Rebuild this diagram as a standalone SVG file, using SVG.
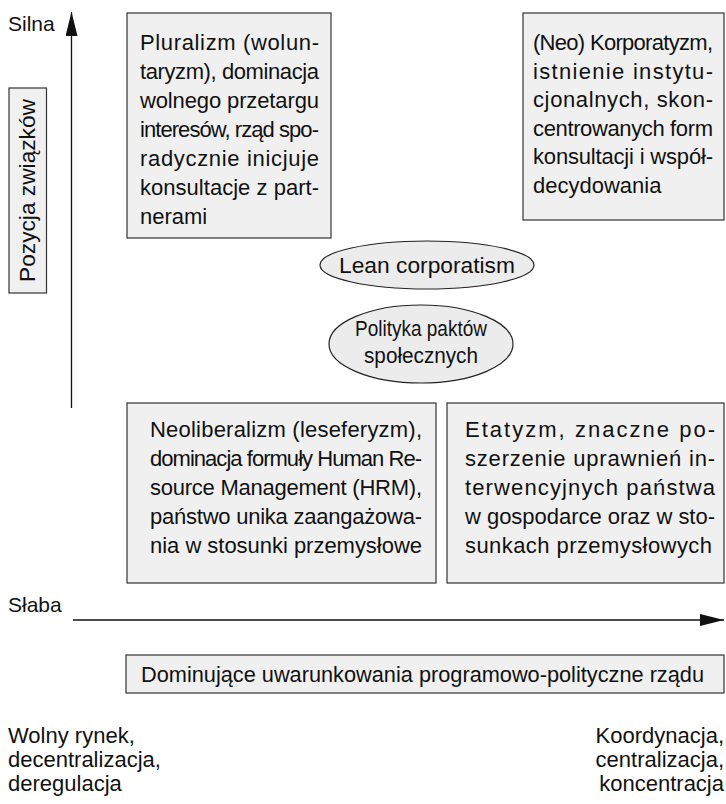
<svg xmlns="http://www.w3.org/2000/svg" width="726" height="804" viewBox="0 0 726 804">
<style>
text{font-family:"Liberation Sans",Arial,sans-serif;fill:#111;font-size:22px}
.box{fill:#f0f0f0;stroke:#333;stroke-width:1.2}
.ell{fill:#ececec;stroke:#222;stroke-width:1.2}
.axis{stroke:#111;stroke-width:1.3;fill:none}
.lbl{font-size:21px}
.cond{font-size:22px}
</style>
<defs>
<marker id="ah" viewBox="0 0 24 12" refX="24" refY="6" markerWidth="24" markerHeight="12" markerUnits="userSpaceOnUse" orient="auto">
<path d="M0,0 L24,6 L0,12 Z" fill="#111"/>
</marker>
</defs>
<rect width="726" height="804" fill="#fff"/>

<g id="connectors">
<line class="axis" x1="71.5" y1="408" x2="71.5" y2="12" marker-end="url(#ah)"/>
<line class="axis" x1="73" y1="620" x2="724" y2="620" marker-end="url(#ah)"/>
</g>

<g id="silna"><text class="lbl" x="8" y="31">Silna</text></g>
<g id="slaba"><text class="lbl" x="8" y="612">Słaba</text></g>

<g id="pozycja">
<rect class="box" x="9" y="88" width="37.5" height="205"/>
<text transform="translate(35,190.5) rotate(-90)" text-anchor="middle" textLength="183" lengthAdjust="spacingAndGlyphs">Pozycja związków</text>
</g>

<g id="pluralizm">
<rect class="box" x="127" y="13" width="204" height="225"/>
<text x="140" y="50" textLength="179" lengthAdjust="spacing">Pluralizm (wolun-</text>
<text x="140" y="79" textLength="179" lengthAdjust="spacing">taryzm), dominacja</text>
<text x="140" y="108" textLength="179" lengthAdjust="spacing">wolnego przetargu</text>
<text x="140" y="137" textLength="179" lengthAdjust="spacing">interesów, rząd spo-</text>
<text x="140" y="166" textLength="179" lengthAdjust="spacing">radycznie inicjuje</text>
<text x="140" y="195" textLength="179" lengthAdjust="spacing">konsultacje z part-</text>
<text x="140" y="224">nerami</text>
</g>

<g id="korporatyzm">
<rect class="box" x="523" y="13" width="201" height="207"/>
<text x="533" y="50" textLength="180" lengthAdjust="spacing">(Neo) Korporatyzm,</text>
<text x="533" y="79" textLength="180" lengthAdjust="spacing">istnienie instytu-</text>
<text x="533" y="107" textLength="180" lengthAdjust="spacing">cjonalnych, skon-</text>
<text x="533" y="136" textLength="180" lengthAdjust="spacing">centrowanych form</text>
<text x="533" y="164" textLength="180" lengthAdjust="spacing">konsultacji i współ-</text>
<text x="533" y="193">decydowania</text>
</g>

<g id="lean">
<ellipse class="ell" cx="427" cy="265" rx="107" ry="24"/>
<text x="427" y="273" text-anchor="middle" font-size="23" textLength="176" lengthAdjust="spacingAndGlyphs">Lean corporatism</text>
</g>

<g id="pakty">
<ellipse class="ell" cx="421" cy="344" rx="92" ry="39"/>
<text x="421" y="336" text-anchor="middle" font-size="23" textLength="132" lengthAdjust="spacingAndGlyphs">Polityka paktów</text>
<text x="421" y="363" text-anchor="middle" font-size="23" textLength="114" lengthAdjust="spacingAndGlyphs">społecznych</text>
</g>

<g id="neoliberalizm">
<rect class="box" x="127" y="403" width="309" height="180"/>
<text x="150" y="437" textLength="272" lengthAdjust="spacing">Neoliberalizm (leseferyzm),</text>
<text x="150" y="466" textLength="272" lengthAdjust="spacing">dominacja formuły Human Re-</text>
<text x="150" y="495" textLength="272" lengthAdjust="spacing">source Management (HRM),</text>
<text x="150" y="524" textLength="272" lengthAdjust="spacing">państwo unika zaangażowa-</text>
<text x="150" y="553" textLength="272" lengthAdjust="spacing">nia w stosunki przemysłowe</text>
</g>

<g id="etatyzm">
<rect class="box" x="447" y="403" width="277" height="180"/>
<text x="465" y="437" textLength="250" lengthAdjust="spacing">Etatyzm, znaczne po-</text>
<text x="465" y="466" textLength="250" lengthAdjust="spacing">szerzenie uprawnień in-</text>
<text x="465" y="495" textLength="250" lengthAdjust="spacing">terwencyjnych państwa</text>
<text x="465" y="524" textLength="250" lengthAdjust="spacing">w gospodarce oraz w sto-</text>
<text x="465" y="553" textLength="247" lengthAdjust="spacing">sunkach przemysłowych</text>
</g>

<g id="dominujace">
<rect class="box" x="126" y="655" width="598" height="38"/>
<text x="141" y="682" font-size="23" textLength="563" lengthAdjust="spacingAndGlyphs">Dominujące uwarunkowania programowo-polityczne rządu</text>
</g>

<g id="wolny">
<text class="cond" x="8" y="743">Wolny rynek,</text>
<text class="cond" x="8" y="767">decentralizacja,</text>
<text class="cond" x="8" y="791">deregulacja</text>
</g>

<g id="koordynacja">
<text class="cond" x="724" y="743" text-anchor="end">Koordynacja,</text>
<text class="cond" x="724" y="767" text-anchor="end">centralizacja,</text>
<text class="cond" x="724" y="791" text-anchor="end">koncentracja</text>
</g>
</svg>
